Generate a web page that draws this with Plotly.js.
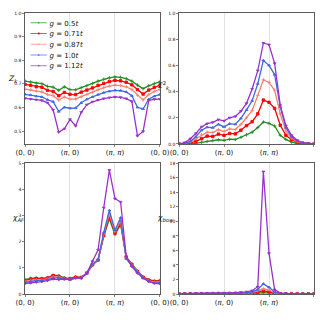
<!DOCTYPE html>
<html><head><meta charset="utf-8">
<script src="https://cdn.plot.ly/plotly-3.0.1.min.js"></script>
<style>html,body{margin:0;padding:0;background:#fff}#c{width:320px;height:320px}</style>
</head><body><div id="c"></div>
<script>
// path: (0,0) -> (pi,0) -> (pi,pi) -> (0,0), 25 momentum points
const kTickVals = [0, 8, 16, 24];
const kTickText = ["(0, 0)", "(<i>π</i>, 0)", "(<i>π</i>, <i>π</i>)", "(0, 0)"];
const couplings = ["<i>g</i> = 0.5<i>t</i>", "<i>g</i> = 0.71<i>t</i>", "<i>g</i> = 0.87<i>t</i>", "<i>g</i> = 1.0<i>t</i>", "<i>g</i> = 1.12<i>t</i>"];

// Z_k
const Z_g050 = [0.712,0.708,0.703,0.701,0.690,0.686,0.673,0.688,0.676,0.675,0.684,0.692,0.702,0.712,0.720,0.726,0.730,0.728,0.722,0.712,0.695,0.680,0.692,0.702,0.710];
const Z_g071 = [0.698,0.694,0.688,0.686,0.673,0.668,0.650,0.664,0.656,0.655,0.665,0.674,0.683,0.694,0.702,0.710,0.715,0.713,0.707,0.696,0.676,0.657,0.674,0.686,0.695];
const Z_g087 = [0.678,0.675,0.669,0.666,0.655,0.650,0.632,0.645,0.636,0.636,0.646,0.656,0.665,0.676,0.684,0.691,0.695,0.693,0.688,0.676,0.652,0.632,0.655,0.668,0.677];
const Z_g100 = [0.656,0.653,0.648,0.645,0.633,0.625,0.583,0.601,0.597,0.598,0.620,0.635,0.645,0.655,0.663,0.669,0.673,0.672,0.666,0.650,0.601,0.594,0.635,0.648,0.655];
const Z_g112 = [0.639,0.636,0.633,0.630,0.620,0.590,0.496,0.510,0.550,0.522,0.580,0.612,0.624,0.632,0.638,0.642,0.645,0.643,0.638,0.626,0.480,0.499,0.630,0.635,0.636];

// Sigma^2_k
const S_g050 = [0,0,0.002,0.005,0.012,0.020,0.025,0.032,0.028,0.036,0.034,0.050,0.070,0.090,0.125,0.168,0.157,0.137,0.066,0.035,0.014,0.005,0.002,0,0];
const S_g071 = [0,0.002,0.008,0.020,0.040,0.060,0.057,0.075,0.065,0.080,0.077,0.105,0.140,0.170,0.230,0.335,0.318,0.272,0.143,0.066,0.032,0.013,0.004,0.001,0];
const S_g087 = [0,0.003,0.015,0.040,0.070,0.090,0.086,0.110,0.095,0.115,0.110,0.150,0.200,0.255,0.370,0.490,0.470,0.410,0.230,0.100,0.045,0.018,0.006,0.002,0];
const S_g100 = [0,0.005,0.020,0.055,0.105,0.128,0.124,0.150,0.130,0.155,0.150,0.195,0.260,0.330,0.460,0.638,0.600,0.530,0.283,0.125,0.055,0.023,0.008,0.002,0];
const S_g112 = [0,0.010,0.040,0.080,0.130,0.155,0.165,0.186,0.176,0.200,0.210,0.250,0.310,0.420,0.560,0.771,0.758,0.615,0.295,0.140,0.066,0.028,0.010,0.003,0];

// chi_AF
const AF_g050 = [0.55,0.60,0.62,0.60,0.63,0.72,0.70,0.62,0.60,0.66,0.64,0.80,1.10,1.30,2.20,2.88,2.27,2.65,1.42,1.15,0.88,0.66,0.55,0.50,0.52];
const AF_g071 = [0.52,0.57,0.59,0.58,0.61,0.70,0.68,0.60,0.58,0.64,0.63,0.80,1.12,1.30,2.25,2.98,2.33,2.73,1.40,1.13,0.86,0.64,0.53,0.48,0.49];
const AF_g087 = [0.48,0.52,0.55,0.55,0.58,0.66,0.65,0.58,0.56,0.62,0.62,0.79,1.13,1.31,2.30,3.07,2.38,2.80,1.38,1.10,0.84,0.62,0.50,0.45,0.46];
const AF_g100 = [0.44,0.48,0.51,0.52,0.55,0.62,0.62,0.57,0.55,0.61,0.61,0.79,1.14,1.32,2.35,3.20,2.44,2.92,1.35,1.08,0.83,0.61,0.48,0.42,0.43];
const AF_g112 = [0.40,0.42,0.45,0.47,0.51,0.57,0.55,0.57,0.55,0.61,0.61,0.80,1.25,1.69,3.30,4.74,3.65,3.52,1.44,1.05,0.80,0.61,0.48,0.41,0.39];

// chi_bow
const B_g050 = [0.02,0.02,0.02,0.02,0.03,0.03,0.03,0.04,0.04,0.04,0.04,0.05,0.06,0.08,0.12,0.18,0.14,0.06,0.03,0.02,0.02,0.02,0.02,0.02,0.02];
const B_g071 = [0.03,0.03,0.03,0.03,0.04,0.04,0.05,0.05,0.05,0.06,0.06,0.07,0.09,0.14,0.25,0.42,0.30,0.10,0.04,0.03,0.03,0.03,0.03,0.03,0.03];
const B_g087 = [0.03,0.03,0.04,0.04,0.05,0.05,0.06,0.07,0.07,0.08,0.08,0.10,0.13,0.20,0.42,0.72,0.55,0.18,0.06,0.04,0.03,0.03,0.03,0.03,0.03];
const B_g100 = [0.04,0.04,0.05,0.05,0.06,0.07,0.08,0.09,0.09,0.10,0.11,0.14,0.19,0.30,0.62,1.40,0.92,0.28,0.08,0.05,0.04,0.04,0.04,0.04,0.04];
const B_g112 = [0.05,0.05,0.06,0.07,0.08,0.10,0.12,0.14,0.13,0.15,0.17,0.22,0.30,0.46,1.00,16.85,5.60,0.60,0.12,0.07,0.05,0.05,0.04,0.04,0.04];

const colors = ["#228b22", "#ff0000", "#fa8072", "#4169e1", "#9932cc"];
const symbols = ["cross-thin", "square", "cross-thin", "triangle-up", "triangle-down"];
const panels = [
  {data: [Z_g050, Z_g071, Z_g087, Z_g100, Z_g112], xa: "x", ya: "y"},
  {data: [S_g050, S_g071, S_g087, S_g100, S_g112], xa: "x2", ya: "y2"},
  {data: [AF_g050, AF_g071, AF_g087, AF_g100, AF_g112], xa: "x3", ya: "y3"},
  {data: [B_g050, B_g071, B_g087, B_g100, B_g112], xa: "x4", ya: "y4"}
];

const traces = [];
panels.forEach((p, pi) => {
  p.data.forEach((ys, si) => {
    traces.push({
      type: "scatter", mode: "lines+markers",
      x: ys.map((_, i) => i), y: ys,
      xaxis: p.xa, yaxis: p.ya,
      name: couplings[si], showlegend: pi === 0,
      line: {color: colors[si], width: 1.3},
      marker: {color: colors[si], size: 2.5, symbol: symbols[si], line: {color: colors[si], width: 0.8}}
    });
  });
});

const font = "DejaVu Sans, sans-serif";
function xax(dom, anchor) {
  return {domain: dom, anchor: anchor, range: [0, 24], tickvals: kTickVals, ticktext: kTickText,
    showgrid: true, gridcolor: "#e3e3e3", gridwidth: 1, zeroline: false,
    showline: true, mirror: true, linecolor: "#333", linewidth: 0.8,
    ticks: "outside", ticklen: 2, tickwidth: 0.6, tickcolor: "#333",
    tickfont: {family: font, size: 7, color: "#111"}};
}
function yax(dom, anchor, range, dtick, fmt) {
  return {domain: dom, anchor: anchor, range: range, dtick: dtick, tick0: 0, tickformat: fmt,
    showgrid: false, zeroline: false,
    showline: true, mirror: true, linecolor: "#333", linewidth: 0.8,
    ticks: "outside", ticklen: 2, tickwidth: 0.6, tickcolor: "#333",
    tickfont: {family: font, size: 4.5, color: "#111"}};
}

const xL = [0, 0.467], xR = [0.533, 1];
const yT = [0.534, 1], yB = [0, 0.465];
const layout = {
  width: 320, height: 320,
  margin: {l: 25, r: 6, t: 13, b: 26},
  paper_bgcolor: "#fff", plot_bgcolor: "#fff",
  font: {family: font, color: "#111"},
  xaxis: xax(xL, "y"), yaxis: yax(yT, "x", [0.446, 1.0], 0.1, ".1f"),
  xaxis2: xax(xR, "y2"), yaxis2: yax(yT, "x2", [0, 1.0], 0.2, ".1f"),
  xaxis3: xax(xL, "y3"), yaxis3: yax(yB, "x3", [0, 5], 1, "d"),
  xaxis4: xax(xR, "y4"), yaxis4: yax(yB, "x4", [0, 18], 2, "d"),
  showlegend: true,
  legend: {x: 0.01, y: 0.994, xanchor: "left", yanchor: "top", bgcolor: "rgba(255,255,255,0)",
    borderwidth: 0, font: {family: font, size: 13}, itemwidth: 30, tracegroupgap: 0},
  annotations: [
    {xref: "paper", yref: "paper", x: -0.066, y: 0.79, text: "<i>Z<sub>k</sub></i>", showarrow: false, font: {family: font, size: 7.5}},
    {xref: "paper", yref: "paper", x: 0.481, y: 0.767, text: "<i>Σ</i><sup>2</sup><sub><i>k</i></sub>", showarrow: false, font: {family: font, size: 7.5}},
    {xref: "paper", yref: "paper", x: -0.052, y: 0.246, text: "<i>χ<sub>AF</sub></i>", showarrow: false, font: {family: font, size: 7.5}},
    {xref: "paper", yref: "paper", x: 0.485, y: 0.246, text: "<i>χ<sub>bow</sub></i>", showarrow: false, font: {family: font, size: 7.5}}
  ]
};
Plotly.newPlot("c", traces, layout, {staticPlot: true, displayModeBar: false}).then(gd => {
  // shrink the legend block to the compact size of the reference
  const lg = gd.querySelector(".legend");
  if (lg) lg.setAttribute("transform", (lg.getAttribute("transform") || "") + " scale(0.54)");
});
</script>
</body></html>
